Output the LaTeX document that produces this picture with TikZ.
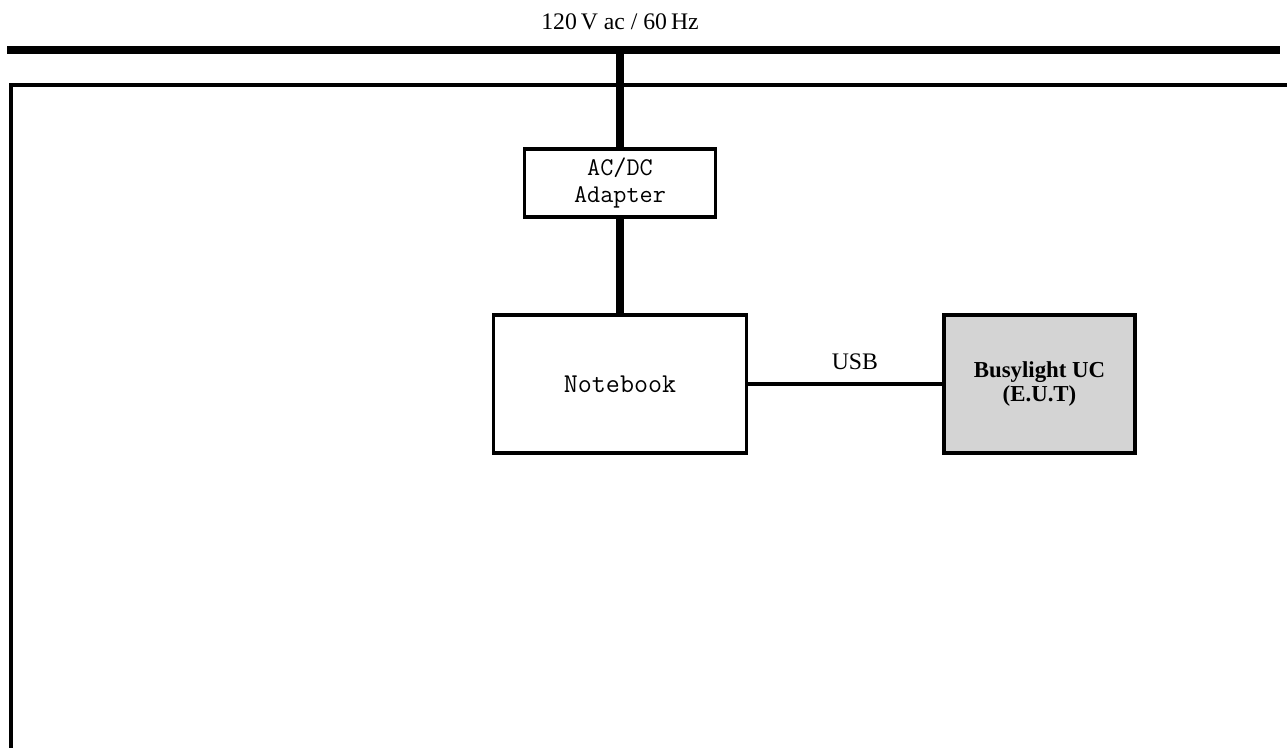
\documentclass[tikz,border=0pt]{standalone}
\usepackage{fontspec}
\setmainfont{Liberation Serif}
\usetikzlibrary{calc}
\tikzset{
    blk/.style={draw, line width=2.2pt, inner sep=2pt, align=center},
    eut/.style={blk, fill=black!17},
    pwr/.style={line width=4.5pt},
    wire/.style={line width=1.8pt},
    mono/.style={font=\fontsize{14.5}{15.5}\selectfont\ttfamily},
    lbl/.style={font=\fontsize{13.5}{16}\selectfont}
}
\begin{document}
\begin{tikzpicture}
        \useasboundingbox (0,0) rectangle (25.74,-14.96);
        \coordinate (busL) at (0.14,-1.0);
        \coordinate (busR) at (25.6,-1.0);
        \coordinate (frmR) at (25.74,-1.7);
        \coordinate (frmB) at (0.22,-14.96);
        \node[lbl] (mains) at (12.4,-0.44) {120\,V ac / 60\,Hz};
        \node[blk, mono, minimum width=3.82cm, minimum height=1.36cm] (adp) at (12.4,-3.66) {AC/DC\\Adapter};
        \node[blk, mono, font=\fontsize{15.5}{17}\selectfont\ttfamily, minimum width=5.06cm, minimum height=2.76cm] (nb) at (12.4,-7.68) {Notebook};
        \node[eut, font=\fontsize{13}{14}\selectfont\bfseries, minimum width=3.82cm, minimum height=2.76cm] (bl) at (20.79,-7.68) {Busylight UC\\(E.U.T)};

        \draw[pwr] (busL) -- (busR);
        \draw[wire] (frmB) |- (frmR);
        \draw[pwr] (adp.north) -- (adp.north |- busL);
        \draw[pwr] (adp) -- (nb);
        \draw[wire] (nb) -- (bl) node[lbl, pos=0.55, above=4pt] {USB};
    \end{tikzpicture}
\end{document}
